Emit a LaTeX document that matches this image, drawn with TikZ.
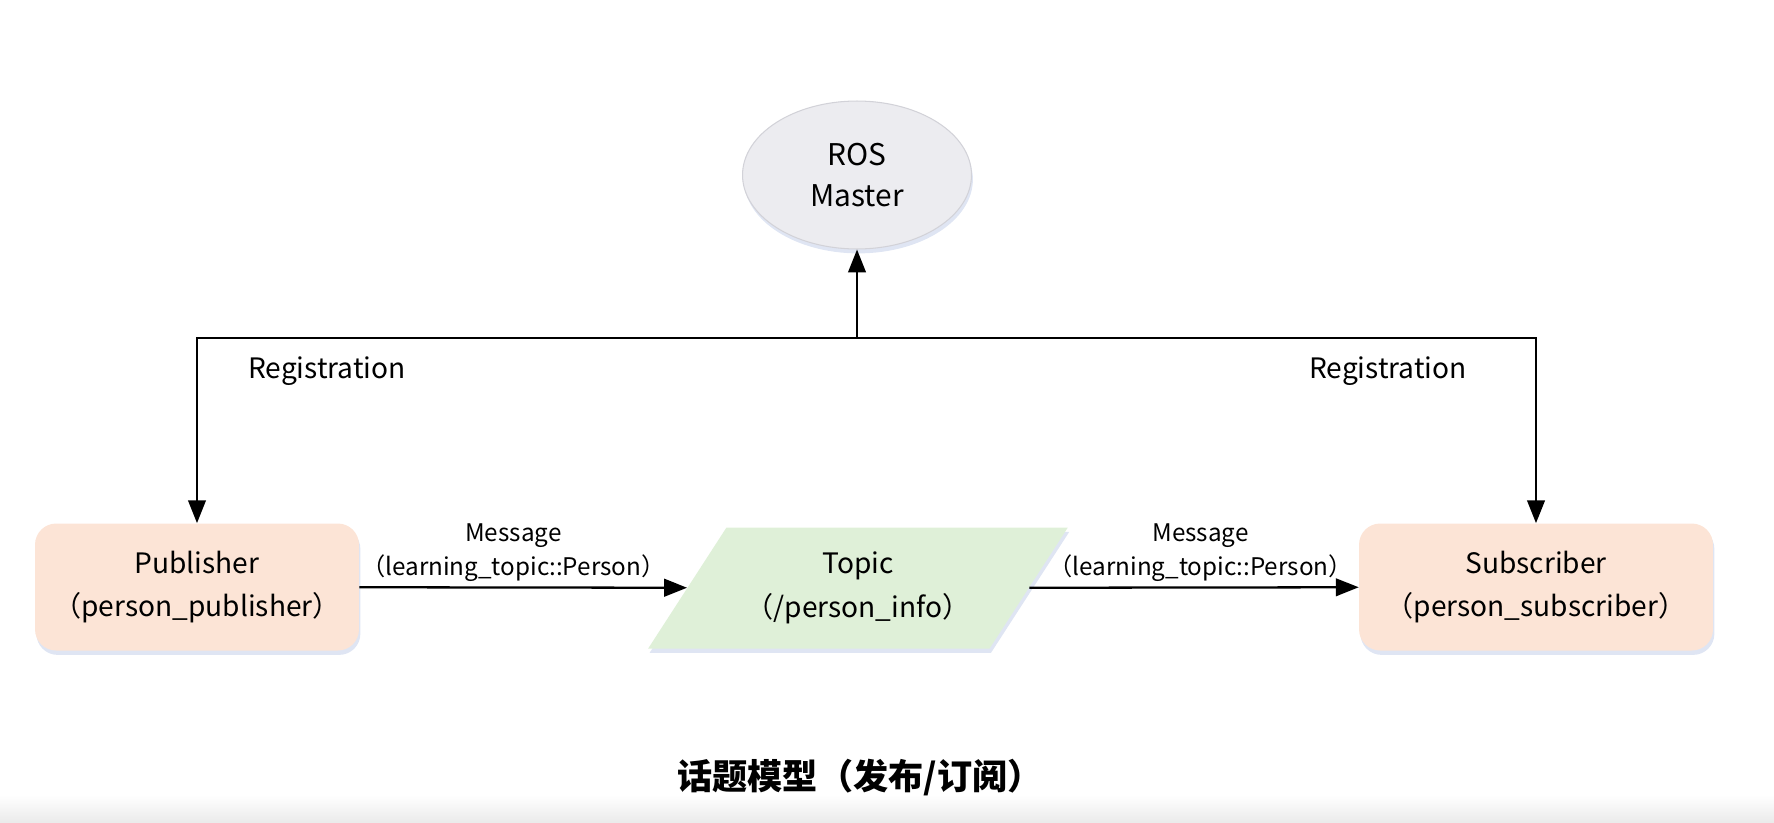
\documentclass[tikz,border=0pt]{standalone}
\usepackage{fontspec}
\setmainfont{Noto Sans CJK SC}
\usetikzlibrary{shapes.geometric, arrows.meta, shadows}
\definecolor{masterGray}{RGB}{236, 236, 240}
\definecolor{masterEdge}{RGB}{210, 210, 216}
\definecolor{nodePeach}{RGB}{252, 228, 214}
\definecolor{topicGreen}{RGB}{223, 240, 216}
\definecolor{shadowBlue}{RGB}{185, 198, 228}

\begin{document}
\begin{tikzpicture}[x=0.02cm, y=-0.02cm,
    nodeText/.style={font=\fontsize{16}{25}\selectfont, align=center},
    msgText/.style={font=\fontsize{13.8}{19}\selectfont, align=center, inner sep=3pt},
    softShadow/.style={drop shadow={shadow xshift=0.8pt, shadow yshift=-2.5pt, fill=shadowBlue, opacity=0.45}},
    endBox/.style={nodeText, rounded corners=12pt, fill=nodePeach, minimum height=2.54cm, softShadow},
    flow/.style={line width=1.3pt, -{Triangle[length=13pt, width=10pt]}}]
      \useasboundingbox (0,0) rectangle (1774,822);
      \shade[top color=white, bottom color=black!8] (0,795) rectangle (1774,822);

      \node[ellipse, draw=masterEdge, line width=0.6pt, fill=masterGray, minimum width=4.58cm, minimum height=2.96cm, inner sep=0pt, softShadow, nodeText, font=\fontsize{17}{23}\selectfont] (master) at (857,175) {ROS\\Master};
      \node[endBox, minimum width=6.48cm] (pub) at (197,587) {Publisher\\（person\_publisher）};
      \node[endBox, minimum width=7.08cm] (sub) at (1536,587) {Subscriber\\（person\_subscriber）};
      \node[trapezium, trapezium left angle=50, trapezium right angle=130, trapezium stretches=true, fill=topicGreen, minimum width=8.4cm, minimum height=2.42cm, softShadow, nodeText] (topic) at (858,588) {Topic\\（/person\_info）};

      \coordinate (joint) at (857,338);
      \draw[flow] (joint) -- (master);
      \draw[flow] (joint) -| (pub);
      \draw[flow] (joint) -| (sub);
      \node[nodeText] (regLeft) at (327,371) {Registration};
      \node[nodeText] (regRight) at (1388,371) {Registration};

      \draw[flow] (pub) -- node[msgText, above, pos=0.47] {Message\\（learning\_topic::Person）} (topic);
      \draw[flow] (topic) -- node[msgText, above, pos=0.52] {Message\\（learning\_topic::Person）} (sub);

      \node[font=\fontsize{20}{24}\selectfont\bfseries] (title) at (860,778) {话题模型（发布/订阅）};
    \end{tikzpicture}
\end{document}
